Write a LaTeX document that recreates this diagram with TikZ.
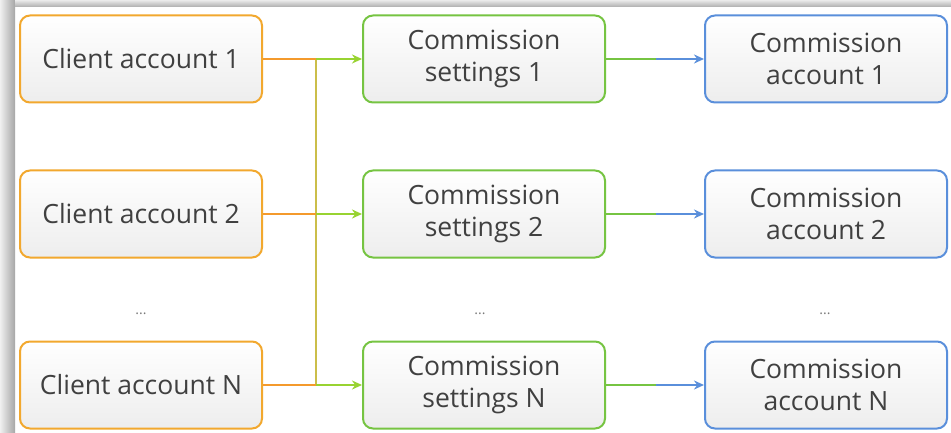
\documentclass[tikz,border=0pt]{standalone}
\usepackage{fontspec}
\setmainfont{Open Sans}
\usetikzlibrary{arrows.meta, positioning}
\definecolor{clientorange}{HTML}{F2A82E}
\definecolor{settinggreen}{HTML}{76C442}
\definecolor{accountblue}{HTML}{5A8FDB}
\definecolor{busolive}{HTML}{CBBE4A}
\definecolor{feedorange}{HTML}{F49A2C}
\definecolor{textgray}{HTML}{404040}

\begin{document}
\begin{tikzpicture}[x=1pt, y=1pt,
    box/.style={rectangle, rounded corners=10pt, line width=2pt, minimum width=242pt, minimum height=87pt,
      inner sep=0pt, align=center, top color=white, bottom color=black!7, text=textgray,
      font=\fontsize{26.5}{32}\selectfont},
    client/.style={box, draw=clientorange},
    setting/.style={box, draw=settinggreen},
    account/.style={box, draw=accountblue},
    wire/.style={line width=2pt},
    tip/.style={-{Stealth[length=10pt, width=9pt]}},
    dots/.style={text=textgray!70, font=\fontsize{14}{14}\selectfont}]
                    \useasboundingbox (0,0) rectangle (951,-433);
                    \fill[white] (0,0) rectangle (951,-433);
                    \shade[left color=black!6, right color=black!35] (0,0) rectangle (15,-433);
                    \shade[top color=black!8, bottom color=black!32] (15,0) rectangle (951,-7);
                    \node[client] (c1) at (141,-59) {Client account 1};
                    \node[client, below=66pt of c1] (c2) {Client account 2};
                    \node[client, below=82pt of c2] (cn) {Client account N};
                    \node[setting, right=99pt of c1] (s1) {Commission\\settings 1};
                    \node[setting, right=99pt of c2] (s2) {Commission\\settings 2};
                    \node[setting, right=99pt of cn] (sn) {Commission\\settings N};
                    \node[account, right=98pt of s1] (a1) {Commission\\account 1};
                    \node[account, right=98pt of s2] (a2) {Commission\\account 2};
                    \node[account, right=98pt of sn] (an) {Commission\\account N};
                    \node[dots] (d1) at (141,-314) {...};
                    \node[dots] (d2) at (480,-314) {...};
                    \node[dots] (d3) at (825,-314) {...};
                    \coordinate[right=53pt of c1.east] (b1);
                    \coordinate[right=53pt of c2.east] (b2);
                    \coordinate[right=53pt of cn.east] (bn);
                    \coordinate[right=50pt of s1.east] (m1);
                    \coordinate[right=50pt of s2.east] (m2);
                    \coordinate[right=50pt of sn.east] (mn);
                    \draw[wire, busolive] (b1) -- (bn);
                    \draw[wire, feedorange] (c1.east) -- (b1);
                    \draw[wire, feedorange] (c2.east) -- (b2);
                    \draw[wire, feedorange] (cn.east) -- (bn);
                    \draw[wire, tip, settinggreen!75!yellow] (b1) -- (s1.west);
                    \draw[wire, tip, settinggreen!75!yellow] (b2) -- (s2.west);
                    \draw[wire, tip, settinggreen!75!yellow] (bn) -- (sn.west);
                    \draw[wire, settinggreen] (s1.east) -- (m1);
                    \draw[wire, settinggreen] (s2.east) -- (m2);
                    \draw[wire, settinggreen] (sn.east) -- (mn);
                    \draw[wire, tip, accountblue] (m1) -- (a1.west);
                    \draw[wire, tip, accountblue] (m2) -- (a2.west);
                    \draw[wire, tip, accountblue] (mn) -- (an.west);
\end{tikzpicture}
\end{document}
